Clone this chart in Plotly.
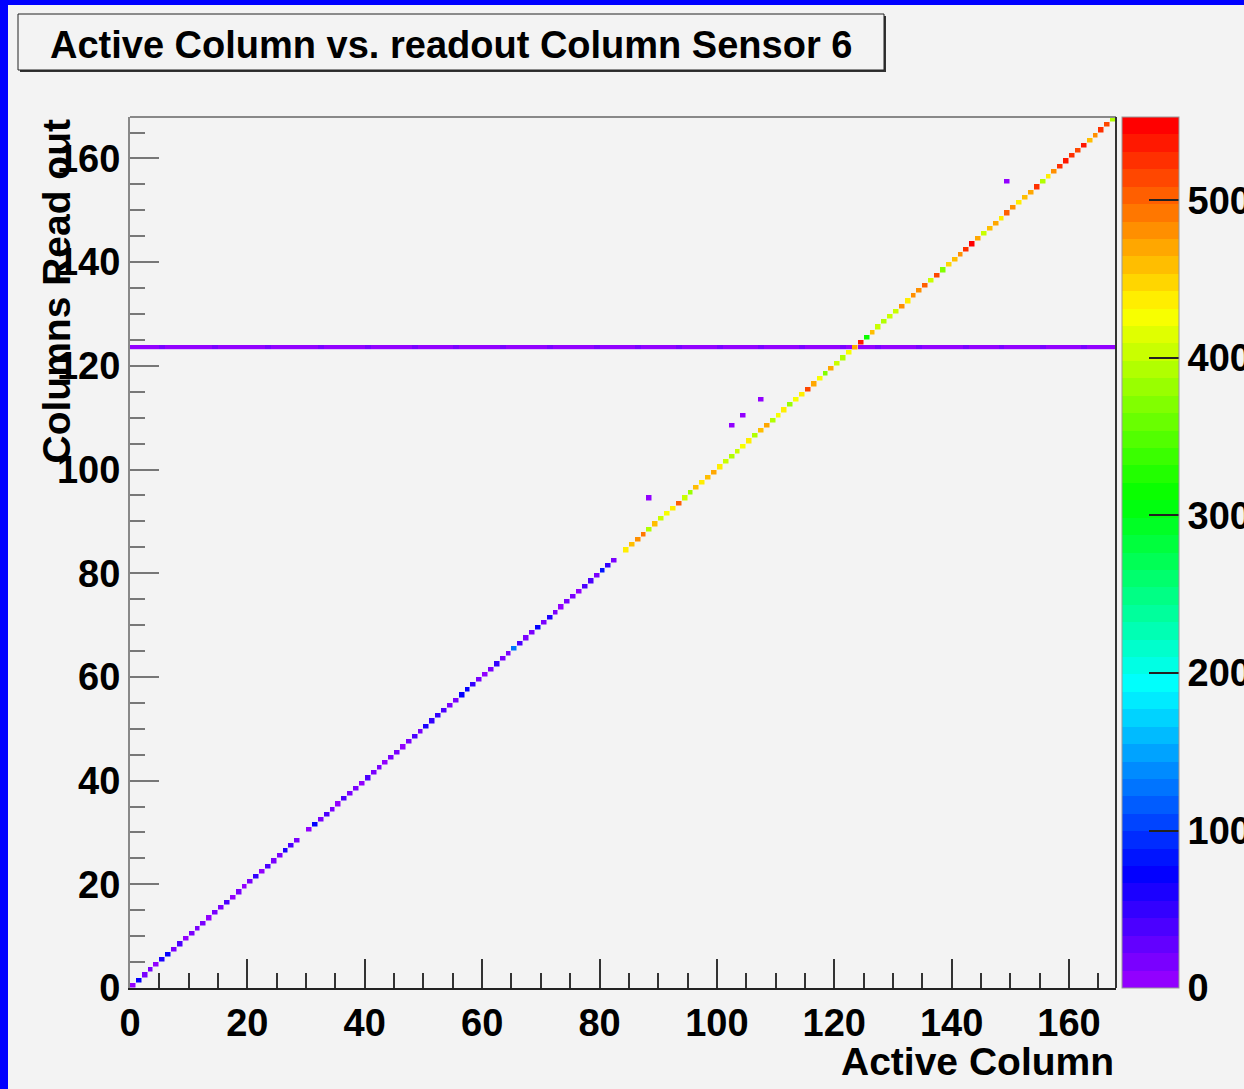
import colorsys
import plotly.graph_objects as go

# ---------------- data ----------------
n_cols = 168  # active columns 0..167, readout columns 0..167
diag_values = [
    8, 70, 12, 16, 9, 62, 68, 14, 40, 10,
    18, 12, 20, 9, 15, 13, 42, 11, 19, 8,
    14, 45, 10, 38, 16, 12, 66, 44, 15, None,
    11, 72, 17, 41, 13, 9, 36, 18, 12, 10,
    39, 14, 16, 11, 19, 13, 8, 17, 43, 12,
    64, 46, 48, 37, 15, 20, 67, 74, 45, 16,
    10, 21, 47, 14, 19, 125, 44, 13, 18, 70,
    12, 66, 17, 9, 15, 20, 11, 38, 42, 14,
    88, 46, 16, None, 435, 455, 478, 490, 395, 460,
    400, 430, 432, 505, 400, 385, 455, 435, 460, 465,
    440, 405, 395, 405, 430, 440, 390, 460, 470, 395,
    430, 435, 380, 425, 440, 510, 465, 430, 375, 470,
    400, 395, 430, 465, 535, 320, 455, 400, 395, 400,
    405, 480, 435, 480, 485, 505, 400, 510, 375, 450,
    455, 480, 520, 553, 475, 400, 460, 470, 440, 500,
    485, 435, 460, 475, 520, 395, 435, 480, 520, 540,
    525, 515, 540, 455, 480, 520, 515, 395,
]
line_row = 123
line_values = [
    6, 8, 5, 9, 7, 12, 6, 5, 8, 7,
    4, 9, 6, 7, 13, 5, 8, 6, 7, 9,
    5, 6, 8, 14, 7, 6, 5, 9, 8, 6,
    7, 5, 12, 8, 6, 9, 7, 5, 6, 8,
    13, 7, 6, 9, 5, 8, 7, 6, 12, 9,
    5, 7, 8, 6, 9, 14, 6, 7, 5, 8,
    9, 6, 7, 12, 5, 8, 6, 9, 7, 6,
    8, 13, 5, 7, 9, 6, 8, 7, 5, 12,
    6, 9, 7, 8, 5, 6, 13, 7, 9, 6,
    8, 5, 7, 12, 6, 9, 8, 7, 5, 6,
    14, 8, 7, 9, 6, 5, 8, 12, 7, 6,
    9, 5, 8, 7, 13, 6, 9, 7, 5, 8,
    6, 12, 7, 9, 8, 5, 6, 13, 7, 9,
    6, 8, 5, 7, 12, 9, 6, 8, 7, 5,
    9, 6, 13, 8, 7, 5, 9, 6, 12, 8,
    7, 6, 9, 5, 8, 14, 7, 6, 9, 8,
    5, 7, 12, 6, 9, 8, 7, 6,
]
outlier_cols = [88, 102, 104, 107, 149]
outlier_rows = [94, 108, 110, 113, 155]
outlier_values = [5, 6, 7, 5, 6]

x_ticks = [0, 20, 40, 60, 80, 100, 120, 140, 160]
y_ticks = [0, 20, 40, 60, 80, 100, 120, 140, 160]
z_ticks = [0, 100, 200, 300, 400, 500]
z_max = 553

# ---------------- build histogram matrices ----------------
centers = [c + 0.5 for c in range(n_cols)]
z_line = [[None] * n_cols for _ in range(n_cols)]
for c, v in enumerate(line_values):
    z_line[line_row][c] = v
z_diag = [[None] * n_cols for _ in range(n_cols)]
for c, v in enumerate(diag_values):
    if v is not None:
        z_diag[c][c] = v
        z_line[c][c] = None
for c, r, v in zip(outlier_cols, outlier_rows, outlier_values):
    z_diag[r][c] = v

# ROOT "pretty palette" (50 colours, hue 274.4 -> 0)
n_pal = 50
pal = []
for i in range(n_pal):
    hue = 280 - (i + 1) * (280 / n_pal)
    r, g, b = colorsys.hls_to_rgb(hue / 360.0, 0.5, 1.0)
    pal.append(f"rgb({round(r*255)},{round(g*255)},{round(b*255)})")
colorscale = []
for i, col in enumerate(pal):
    colorscale.append([i / n_pal, col])
    colorscale.append([(i + 1) / n_pal, col])

# ---------------- layout geometry ----------------
W, H = 1244, 1089
L, R, T, B = 130, 1116, 117, 988
BG = "#f3f3f3"


def px(x):
    return (x - L) / (R - L)


def py(y):
    return (B - y) / (B - T)


font_b = dict(family="Liberation Sans", size=38, color="black", weight="bold")

fig = go.Figure()
fig.add_trace(go.Heatmap(
    x=centers, y=centers, z=z_line, coloraxis="coloraxis",
    xgap=0, ygap=0.8, hoverongaps=False,
))
fig.add_trace(go.Heatmap(
    x=centers, y=centers, z=z_diag, coloraxis="coloraxis",
    xgap=0.5, ygap=0.5, hoverongaps=False,
))

fig.update_layout(
    width=W, height=H,
    margin=dict(l=L, r=W - R, t=T, b=H - B, pad=0, autoexpand=False),
    paper_bgcolor=BG, plot_bgcolor=BG,
    showlegend=False,
    coloraxis=dict(
        colorscale=colorscale, cmin=0, cmax=z_max,
        colorbar=dict(
            x=px(1122), xanchor="left", xref="paper",
            y=0.5, yanchor="middle", len=1, lenmode="fraction",
            thickness=57, thicknessmode="pixels",
            xpad=0, ypad=0,
            outlinewidth=1, outlinecolor="#999",
            tickvals=z_ticks, ticks="inside", ticklen=30,
            tickcolor="#222", tickwidth=1.5,
            tickfont=font_b,
        ),
    ),
    xaxis=dict(
        range=[0, n_cols], tickvals=x_ticks, ticks="inside", ticklen=29,
        tickcolor="#333", tickwidth=1.5,
        minor=dict(dtick=5, ticks="inside", ticklen=15, tickcolor="#333", tickwidth=1.5),
        showgrid=False, zeroline=False,
        showline=True, linecolor="#222", linewidth=2,
        tickfont=font_b,
    ),
    yaxis=dict(
        range=[0, n_cols], tickvals=y_ticks, ticks="inside", ticklen=29,
        tickcolor="#777", tickwidth=1.5,
        minor=dict(dtick=5, ticks="inside", ticklen=15, tickcolor="#777", tickwidth=1.5),
        showgrid=False, zeroline=False,
        showline=True, linecolor="#888", linewidth=2,
        tickfont=font_b,
    ),
)

shapes = [
    # blue page border (left and top)
    dict(type="rect", xref="paper", yref="paper", x0=px(0), x1=px(8), y0=py(H), y1=py(0),
         fillcolor="#0000ff", line=dict(width=0), layer="below"),
    dict(type="rect", xref="paper", yref="paper", x0=px(0), x1=px(W), y0=py(5), y1=py(0),
         fillcolor="#0000ff", line=dict(width=0), layer="below"),
    # frame top and right
    dict(type="line", xref="paper", yref="paper", x0=0, x1=1, y0=1, y1=1,
         line=dict(color="#888", width=2)),
    dict(type="line", xref="paper", yref="paper", x0=1, x1=1, y0=0, y1=1,
         line=dict(color="#333", width=2)),
    # title pave: shadow + box
    dict(type="rect", xref="paper", yref="paper", x0=px(20), x1=px(886), y0=py(72), y1=py(16),
         fillcolor="#333", line=dict(width=0)),
    dict(type="rect", xref="paper", yref="paper", x0=px(18), x1=px(884), y0=py(70), y1=py(14),
         fillcolor=BG, line=dict(color="#222", width=1)),
]
fig.update_layout(shapes=shapes)

fig.add_annotation(
    text="Active Column vs. readout Column Sensor 6",
    xref="paper", yref="paper", x=px(451), y=py(45),
    xanchor="center", yanchor="middle", showarrow=False,
    font=dict(family="Liberation Sans", size=38, color="black", weight="bold"),
)
fig.add_annotation(
    text="Active Column",
    xref="paper", yref="paper", x=1, y=py(1061),
    xanchor="right", yanchor="middle", showarrow=False,
    font=dict(family="Liberation Sans", size=39, color="black", weight="bold"),
)
fig.add_annotation(
    text="Columns Read out",
    xref="paper", yref="paper", x=px(56), y=1,
    xanchor="center", yanchor="top", textangle=-90, showarrow=False,
    font=dict(family="Liberation Sans", size=39, color="black", weight="bold"),
)

fig.write_html("out.html")
